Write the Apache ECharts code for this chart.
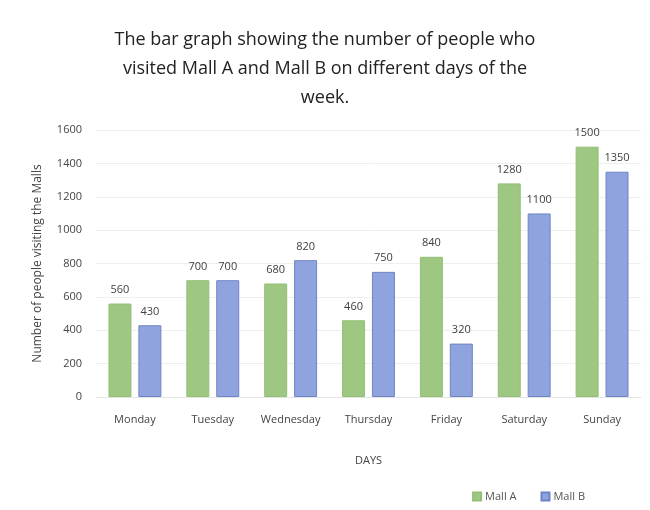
<!DOCTYPE html>
<html>
<head>
<meta charset="utf-8">
<script src="https://cdn.jsdelivr.net/npm/echarts@6/dist/echarts.min.js"></script>
<style>html,body{margin:0;padding:0;background:#fff}#c{width:650px;height:510px}</style>
</head>
<body>
<div id="c"></div>
<script>
const categories = ['Monday','Tuesday','Wednesday','Thursday','Friday','Saturday','Sunday'];
const mallA = [560, 700, 680, 460, 840, 1280, 1500];
const mallB = [430, 700, 820, 750, 320, 1100, 1350];
const yTicks = {min: 0, max: 1600, interval: 200};

const chart = echarts.init(document.getElementById('c'));
const font = "'Open Sans', 'Liberation Sans', sans-serif";
chart.setOption({
  backgroundColor: '#fff',
  animation: false,
  textStyle: {fontFamily: font},
  title: {
    text: 'The bar graph showing the number of people who\nvisited Mall A and Mall B on different days of the\nweek.',
    left: 'center', top: 20,
    textStyle: {fontFamily: font, fontSize: 18, fontWeight: 'normal', color: '#222', lineHeight: 29}
  },
  legend: {
    data: ['Mall A','Mall B'],
    right: 60, top: 486,
    icon: 'rect',
    itemWidth: 8, itemHeight: 8, itemGap: 24,
    textStyle: {fontFamily: font, fontSize: 11, color: '#555', padding: [0,0,0,-1]}
  },
  grid: {left: 96, right: 9, top: 130, bottom: 113},
  xAxis: {
    type: 'category', data: categories,
    name: 'DAYS', nameLocation: 'middle', nameGap: 58,
    nameTextStyle: {fontFamily: font, fontSize: 11, color: '#444'},
    axisLine: {show: true, lineStyle: {color: '#e4e4e4'}},
    axisTick: {show: false},
    axisLabel: {fontFamily: font, fontSize: 11, color: '#444', margin: 17}
  },
  yAxis: {
    type: 'value', min: yTicks.min, max: yTicks.max, interval: yTicks.interval,
    name: 'Number of people visiting the Malls', nameLocation: 'middle', nameGap: 52,
    nameTextStyle: {fontFamily: font, fontSize: 12, color: '#444'},
    axisLine: {show: false}, axisTick: {show: false},
    axisLabel: {fontFamily: font, fontSize: 11, color: '#444', margin: 14, formatter: v => String(v)},
    splitLine: {lineStyle: {color: '#eeeeee'}}
  },
  series: [
    {name: 'Mall A', type: 'bar', data: mallA, barWidth: 23, barGap: '30%',
     itemStyle: {color: '#9ec882', borderColor: '#92bf75', borderWidth: 1},
     label: {show: true, position: 'top', distance: 8, fontFamily: font, fontSize: 11, color: '#404040'}},
    {name: 'Mall B', type: 'bar', data: mallB, barWidth: 23,
     itemStyle: {color: '#8fa4de', borderColor: '#6f84c4', borderWidth: 1},
     label: {show: true, position: 'top', distance: 8, fontFamily: font, fontSize: 11, color: '#404040'}}
  ]
});
</script>
</body>
</html>
